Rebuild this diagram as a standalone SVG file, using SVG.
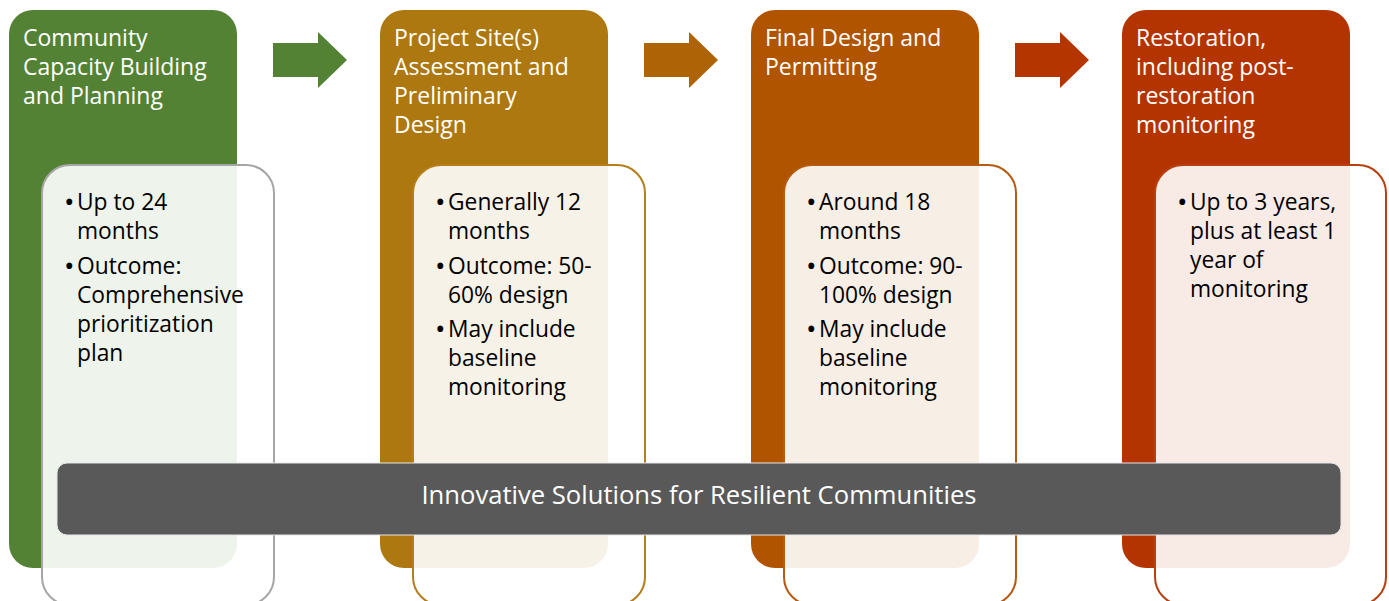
<svg xmlns="http://www.w3.org/2000/svg" width="1389" height="601" viewBox="0 0 1389 601">
<style>
.col{stroke:none}
.box{fill:#ffffff;fill-opacity:0.9;stroke-width:2}
.title{font-family:"Open Sans","Noto Sans",sans-serif;font-size:23px;fill:#ffffff}
.body{font-family:"Open Sans","Noto Sans",sans-serif;font-size:22.8px;fill:#000000}
.bul{font-size:28px}
.bar{fill:#595959;stroke:#e6e6e6;stroke-width:1}
.bartext{font-family:"Open Sans","Noto Sans",sans-serif;font-size:25.6px;fill:#ffffff}
</style>
<rect width="1389" height="601" fill="#ffffff"/>
<g id="connectors">
<polygon points="273,43 318,43 318,32 347,60 318,88 318,77 273,77" fill="#548235"/>
<polygon points="644,43 689,43 689,32 718,60 689,88 689,77 644,77" fill="#AE6306"/>
<polygon points="1015,43 1060,43 1060,32 1089,60 1060,88 1060,77 1015,77" fill="#B43500"/>
</g>
<g id="stage1">
<rect class="col" x="9" y="10" width="228" height="558" rx="24" fill="#548235"/>
<text class="title"><tspan x="23" y="46">Community</tspan><tspan x="23" y="75">Capacity Building</tspan><tspan x="23" y="104">and Planning</tspan></text>
<rect class="box" x="42" y="165" width="232" height="440" rx="28" stroke="#A6A6A6"/>
<text class="body"><tspan class="bul" x="64" y="212">•</tspan><tspan x="77" y="210">Up to 24</tspan><tspan x="77" y="239">months</tspan><tspan class="bul" x="64" y="276">•</tspan><tspan x="77" y="274">Outcome:</tspan><tspan x="77" y="303">Comprehensive</tspan><tspan x="77" y="332">prioritization</tspan><tspan x="77" y="361">plan</tspan></text>
</g>
<g id="stage2">
<rect class="col" x="380" y="10" width="228" height="558" rx="24" fill="#AD7810"/>
<text class="title"><tspan x="394" y="46">Project Site(s)</tspan><tspan x="394" y="75">Assessment and</tspan><tspan x="394" y="104">Preliminary</tspan><tspan x="394" y="133">Design</tspan></text>
<rect class="box" x="413" y="165" width="232" height="440" rx="28" stroke="#B57E1A"/>
<text class="body"><tspan class="bul" x="435" y="212">•</tspan><tspan x="448" y="210">Generally 12</tspan><tspan x="448" y="239">months</tspan><tspan class="bul" x="435" y="276">•</tspan><tspan x="448" y="274">Outcome: 50-</tspan><tspan x="448" y="303">60% design</tspan><tspan class="bul" x="435" y="339">•</tspan><tspan x="448" y="337">May include</tspan><tspan x="448" y="366">baseline</tspan><tspan x="448" y="395">monitoring</tspan></text>
</g>
<g id="stage3">
<rect class="col" x="751" y="10" width="228" height="558" rx="24" fill="#B05400"/>
<text class="title"><tspan x="765" y="46">Final Design and</tspan><tspan x="765" y="75">Permitting</tspan></text>
<rect class="box" x="784" y="165" width="232" height="440" rx="28" stroke="#B55A10"/>
<text class="body"><tspan class="bul" x="806" y="212">•</tspan><tspan x="819" y="210">Around 18</tspan><tspan x="819" y="239">months</tspan><tspan class="bul" x="806" y="276">•</tspan><tspan x="819" y="274">Outcome: 90-</tspan><tspan x="819" y="303">100% design</tspan><tspan class="bul" x="806" y="339">•</tspan><tspan x="819" y="337">May include</tspan><tspan x="819" y="366">baseline</tspan><tspan x="819" y="395">monitoring</tspan></text>
</g>
<g id="stage4">
<rect class="col" x="1122" y="10" width="228" height="558" rx="24" fill="#B43400"/>
<text class="title"><tspan x="1136" y="46">Restoration,</tspan><tspan x="1136" y="75">including post-</tspan><tspan x="1136" y="104">restoration</tspan><tspan x="1136" y="133">monitoring</tspan></text>
<rect class="box" x="1155" y="165" width="231" height="440" rx="28" stroke="#B8400F"/>
<text class="body"><tspan class="bul" x="1177" y="212">•</tspan><tspan x="1190" y="210">Up to 3 years,</tspan><tspan x="1190" y="239">plus at least 1</tspan><tspan x="1190" y="268">year of</tspan><tspan x="1190" y="297">monitoring</tspan></text>
</g>
<g id="banner">
<rect class="bar" x="57" y="463" width="1284" height="72" rx="10"/>
<text class="bartext" x="699" y="504" text-anchor="middle">Innovative Solutions for Resilient Communities</text>
</g>
</svg>
